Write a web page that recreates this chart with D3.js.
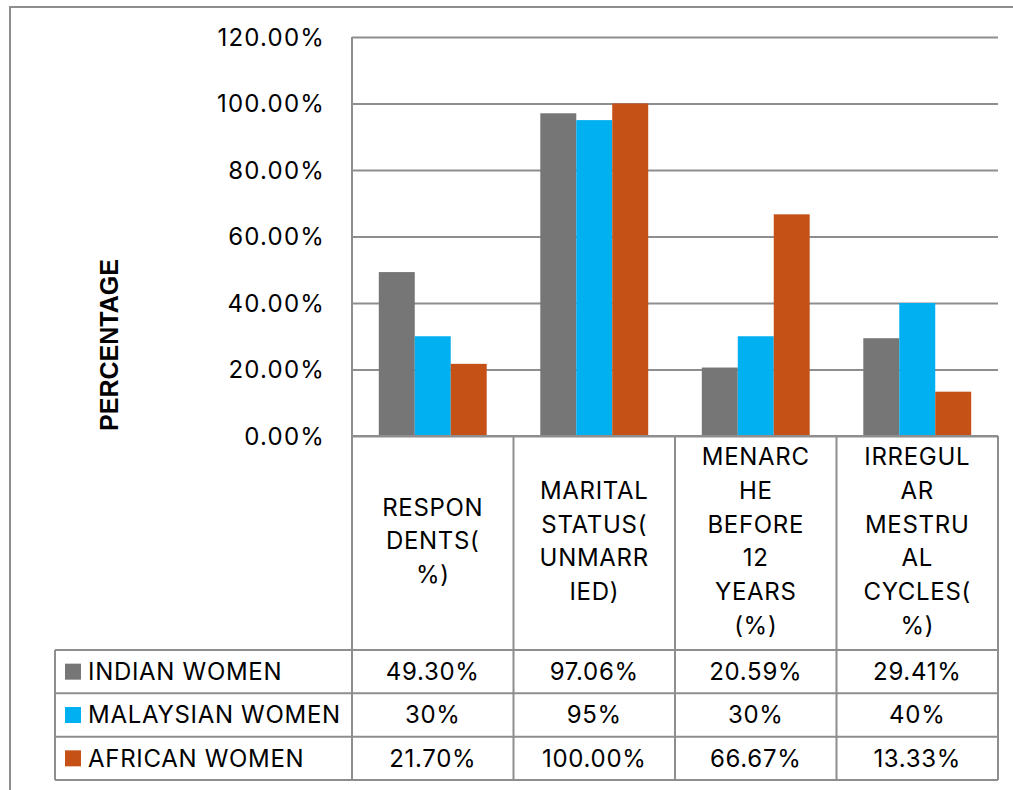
<!DOCTYPE html>
<html><head><meta charset="utf-8">
<script src="https://cdn.jsdelivr.net/npm/d3@7"></script>
<style>body{margin:0;background:#fff}svg{display:block;font-family:Inter,"Liberation Sans",Arial,sans-serif}</style>
</head><body><svg id="c" width="1013" height="790"></svg>
<script>
const categories = ["RESPON\nDENTS(\n%)", "MARITAL\nSTATUS(\nUNMARR\nIED)", "MENARC\nHE\nBEFORE\n12\nYEARS\n(%)", "IRREGUL\nAR\nMESTRU\nAL\nCYCLES(\n%)"];
const seriesNames = ["INDIAN WOMEN", "MALAYSIAN WOMEN", "AFRICAN WOMEN"];
const indian = [49.30, 97.06, 20.59, 29.41];
const malaysian = [30, 95, 30, 40];
const african = [21.70, 100.00, 66.67, 13.33];
const indianLabels = ["49.30%", "97.06%", "20.59%", "29.41%"];
const malaysianLabels = ["30%", "95%", "30%", "40%"];
const africanLabels = ["21.70%", "100.00%", "66.67%", "13.33%"];
const yTicks = [0, 20, 40, 60, 80, 100, 120];
const colors = ["#767676", "#00B0F0", "#C55117"];

const series = [indian, malaysian, african];
const labels = [indianLabels, malaysianLabels, africanLabels];
const svg = d3.select("#c");
const gridCol = "#8e8e8e";
const FS = 24, LS = 0.7;
const L = 352, R = 998, T = 37, B = 436, HB = 650, TB = 780, LL = 55;

svg.append("path").attr("d", `M10,790 V7 H1013`).attr("fill","none").attr("stroke",gridCol).attr("stroke-width",2);

const y = d3.scaleLinear().domain([0,120]).range([B,T]);
const x = d3.scaleBand().domain(d3.range(categories.length)).range([L,R]);
const xs = d3.scaleBand().domain(d3.range(series.length)).range([0, x.bandwidth()]).paddingInner(0).paddingOuter(0.745);

const yAxis = d3.axisLeft(y).tickValues(yTicks).tickSize(-(R-L)).tickPadding(27).tickFormat(d => d.toFixed(2) + "%");
const ga = svg.append("g").attr("transform", `translate(${L},0)`).call(yAxis);
ga.select(".domain").remove();
ga.selectAll(".tick line").attr("stroke", gridCol).attr("stroke-width", 2);
ga.selectAll(".tick text").attr("fill","#000").attr("font-size", FS).attr("letter-spacing", 1.2)
  .attr("font-family","Inter, Liberation Sans, Arial, sans-serif").attr("dy","0.35em");

series.forEach((s, si) => {
  svg.append("g").selectAll("rect").data(s).join("rect")
    .attr("x", (d,i) => x(i) + xs(si))
    .attr("width", xs.bandwidth())
    .attr("y", d => y(d))
    .attr("height", d => y(0) - y(d))
    .attr("fill", colors[si]);
});

svg.append("line").attr("x1",L).attr("x2",L).attr("y1",T).attr("y2",TB).attr("stroke",gridCol).attr("stroke-width",2);
svg.append("line").attr("x1",R).attr("x2",R).attr("y1",B).attr("y2",TB).attr("stroke",gridCol).attr("stroke-width",2);
categories.forEach((c,i) => {
  if (i>0) svg.append("line").attr("x1",x(i)).attr("x2",x(i)).attr("y1",B).attr("y2",TB).attr("stroke",gridCol).attr("stroke-width",2);
});
svg.append("line").attr("x1",L).attr("x2",R).attr("y1",B).attr("y2",B).attr("stroke",gridCol).attr("stroke-width",2);

categories.forEach((c,i) => {
  const lines = c.split("\n");
  const lh = 33.7, cy = 541;
  const t = svg.append("text").attr("text-anchor","middle").attr("font-size",FS).attr("letter-spacing",LS).attr("fill","#000");
  lines.forEach((ln, k) => {
    t.append("tspan").attr("x", x(i) + x.bandwidth()/2)
      .attr("y", cy + (k - (lines.length-1)/2) * lh).attr("dy","0.35em").text(ln);
  });
});

const ry = d3.scaleBand().domain(d3.range(series.length)).range([HB, TB]);
series.forEach((s, si) => {
  svg.append("line").attr("x1",LL).attr("x2",R).attr("y1",ry(si)).attr("y2",ry(si)).attr("stroke",gridCol).attr("stroke-width",2);
  const cy = ry(si) + ry.bandwidth()/2;
  svg.append("rect").attr("x",65).attr("y",cy-8).attr("width",16).attr("height",16).attr("fill",colors[si]);
  svg.append("text").attr("x",88).attr("y",cy).attr("dy","0.35em").attr("font-size",FS).attr("letter-spacing",LS).attr("fill","#000").text(seriesNames[si]);
  labels[si].forEach((lb, i) => {
    svg.append("text").attr("x", x(i)+x.bandwidth()/2).attr("y",cy).attr("dy","0.35em")
      .attr("text-anchor","middle").attr("font-size",FS).attr("letter-spacing",LS).attr("fill","#000").text(lb);
  });
});
svg.append("line").attr("x1",LL).attr("x2",R).attr("y1",TB).attr("y2",TB).attr("stroke",gridCol).attr("stroke-width",2);
svg.append("line").attr("x1",LL).attr("x2",LL).attr("y1",HB).attr("y2",TB).attr("stroke",gridCol).attr("stroke-width",2);

svg.append("text").attr("transform","translate(109,345) rotate(-90)").attr("text-anchor","middle").attr("dy","0.35em")
  .attr("font-family","Liberation Sans, Arial, sans-serif")
  .attr("font-size",25).attr("font-weight","bold").attr("fill","#000").text("PERCENTAGE");
</script></body></html>
